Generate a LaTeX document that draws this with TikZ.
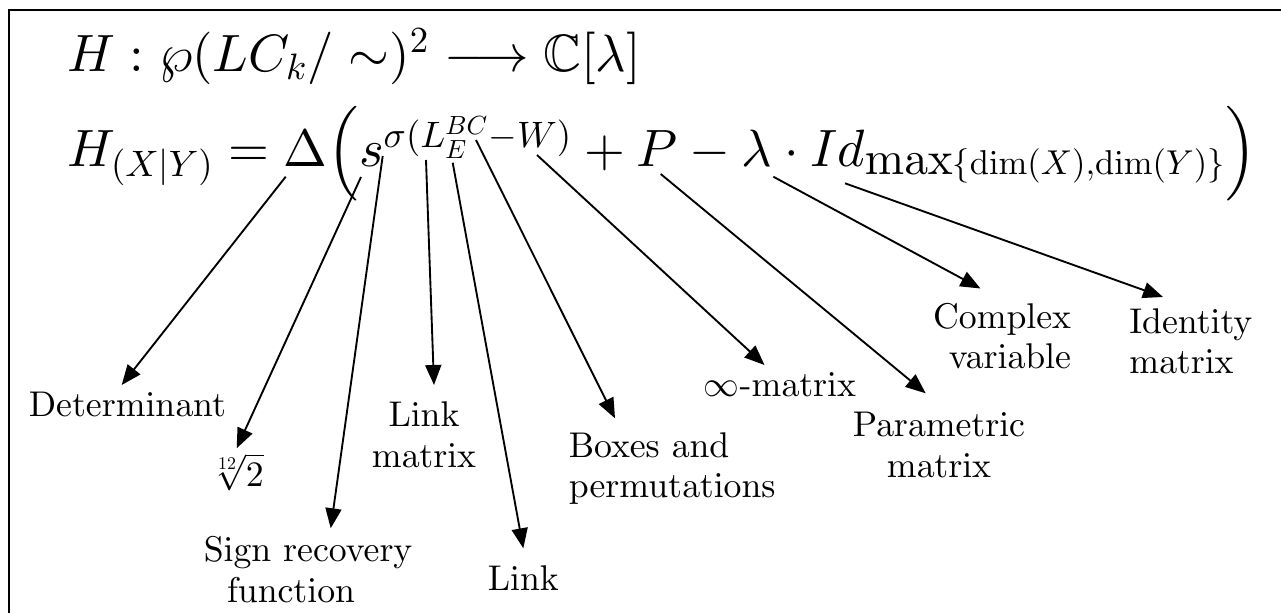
\documentclass[tikz,border=0pt]{standalone}
\usepackage{amsmath,amssymb}
\DeclareFontShape{OT1}{cmr}{m}{n}{<->cmr10}{}
\DeclareFontShape{OML}{cmm}{m}{it}{<->cmmi10}{}
\DeclareFontShape{OMS}{cmsy}{m}{n}{<->cmsy10}{}
\DeclareFontShape{OMX}{cmex}{m}{n}{<->cmex10}{}
\usetikzlibrary{arrows.meta}
\tikzset{
  formula/.style={inner sep=0pt, font=\fontsize{21}{25}\selectfont},
  lbl/.style={inner sep=0pt, font=\fontencoding{OT1}\fontfamily{cmr}\fontsize{14.3}{16.2}\selectfont},
  arr/.style={-{Triangle[length=8pt,width=6.4pt]}, line width=0.75pt},
  frameline/.style={line width=0.8pt}
}
\begin{document}
\begin{tikzpicture}[x=0.4pt,y=-0.4pt]
\useasboundingbox (0,0) rectangle (1281,613);
\draw[frameline] (9,613) -- (9,9.5) -- (1281,9.5);

% formula
\node[formula, anchor=base west] (eqa) at (67,71.7)
  {$H : \wp(LC_k/ \sim)^2 \longrightarrow \mathbb{C}[\lambda]$};
\node[formula, anchor=base west] (eqb) at (67,166.7)
  {$H_{(X|Y)} = \Delta \Bigl( s^{\sigma(L^{BC}_E-W)} + P - \lambda\cdot Id_{\mbox{\fontsize{18.9}{19}\selectfont$\mathrm{max}$}\mbox{\fontsize{13.8}{14}\selectfont$\{\mathrm{dim}(X){,}\mathrm{dim}(Y)\}$}} \Bigr)$};

% labels
\node[lbl, anchor=base] (det) at (127.5,416) {Determinant};
\node[lbl, anchor=base] (root) at (236,486) {$\sqrt[12]{2}$};
\node[lbl, anchor=base west] (sign) at (203.3,561.7)
  {\begin{tabular}[t]{@{}l@{}}Sign recovery\\\hspace*{0.65em}function\end{tabular}};
\node[lbl, anchor=base] (linkmat) at (424,426.7)
  {\begin{tabular}[t]{@{}c@{}}Link\\matrix\end{tabular}};
\node[lbl, anchor=base] (link) at (523.3,590.7) {Link};
\node[lbl, anchor=base west] (boxes) at (568.3,457.3)
  {\begin{tabular}[t]{@{}l@{}}Boxes and\\permutations\end{tabular}};
\node[lbl, anchor=base] (inf) at (780,396.7) {$\infty$-matrix};
\node[lbl, anchor=base] (param) at (939,436.7)
  {\begin{tabular}[t]{@{}c@{}}Parametric\\matrix\end{tabular}};
\node[lbl, anchor=base east] (cplx) at (1071.6,328.3)
  {\begin{tabular}[t]{@{}r@{}}Complex\\variable\end{tabular}};
\node[lbl, anchor=base west] (ident) at (1128.8,333.3)
  {\begin{tabular}[t]{@{}l@{}}Identity\\matrix\end{tabular}};

% arrow end points
\coordinate (sDet) at (285.7,176.7);
\coordinate (tDet) at (121.7,385);
\coordinate (sRoot) at (361,177);
\coordinate (tRoot) at (236.7,448.3);
\coordinate (sSign) at (382.7,156);
\coordinate (tSign) at (330.7,528.3);
\coordinate (sLM) at (426,160);
\coordinate (tLM) at (434,385);
\coordinate (sLink) at (452.7,162.7);
\coordinate (tLink) at (523.3,548.3);
\coordinate (sBox) at (476,140);
\coordinate (tBox) at (615,418.3);
\coordinate (sInf) at (537,155);
\coordinate (tInf) at (764.5,365);
\coordinate (sPar) at (660.7,174);
\coordinate (tPar) at (925.7,393.3);
\coordinate (sCx) at (773.3,176.7);
\coordinate (tCx) at (980.5,288.5);
\coordinate (sId) at (845,183.3);
\coordinate (tId) at (1163,297);

\draw[arr] (sDet) -- (tDet);
\draw[arr] (sRoot) -- (tRoot);
\draw[arr] (sSign) -- (tSign);
\draw[arr] (sLM) -- (tLM);
\draw[arr] (sLink) -- (tLink);
\draw[arr] (sBox) -- (tBox);
\draw[arr] (sInf) -- (tInf);
\draw[arr] (sPar) -- (tPar);
\draw[arr] (sCx) -- (tCx);
\draw[arr] (sId) -- (tId);
\end{tikzpicture}
\end{document}
